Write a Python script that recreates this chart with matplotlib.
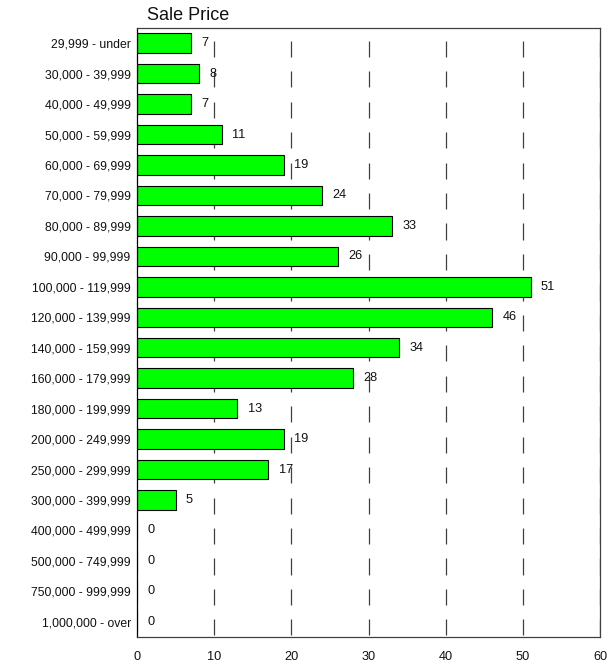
import matplotlib
matplotlib.use("Agg")
import matplotlib.pyplot as plt
import numpy as np

plt.rcParams['font.family'] = ['Liberation Sans', 'DejaVu Sans']

categories = ["29,999 - under", "30,000 - 39,999", "40,000 - 49,999", "50,000 - 59,999",
              "60,000 - 69,999", "70,000 - 79,999", "80,000 - 89,999", "90,000 - 99,999",
              "100,000 - 119,999", "120,000 - 139,999", "140,000 - 159,999", "160,000 - 179,999",
              "180,000 - 199,999", "200,000 - 249,999", "250,000 - 299,999", "300,000 - 399,999",
              "400,000 - 499,999", "500,000 - 749,999", "750,000 - 999,999", "1,000,000 - over"]
values = [7, 8, 7, 11, 19, 24, 33, 26, 51, 46, 34, 28, 13, 19, 17, 5, 0, 0, 0, 0]
xticks = [0, 10, 20, 30, 40, 50, 60]
title = "Sale Price"

fig = plt.figure(figsize=(6.08, 6.64), dpi=100)
ax = fig.add_axes([137/608, 1-637/664, (600-137)/608, (637-28)/664])

y = np.arange(len(categories))
ax.barh(y, values, height=0.64, color='#00FF00', edgecolor='black', linewidth=0.8, zorder=2)

# dashed gridlines (one dash per row)
for xv in xticks[1:]:
    ax.vlines([xv]*len(y), y - 0.08, y + 0.45, colors='#404040', linewidth=0.9, zorder=1)

for yi, v in zip(y, values):
    ax.annotate(str(v), (v, yi), xytext=(7.5, 0), textcoords='offset points',
                ha='left', va='center', fontsize=9.2, color='#111111', zorder=3)

ax.set_xlim(0, 60)
ax.set_ylim(len(categories) - 0.5, -0.5)
ax.set_yticks(y)
ax.set_yticklabels(categories, fontsize=8.8, color='#111111')
ax.set_xticks(xticks)
ax.set_xticklabels([str(t) for t in xticks], fontsize=9.2, color='#111111')
ax.tick_params(axis='y', direction='in', length=6, width=0.8, color='white', pad=4.5)
ax.tick_params(axis='x', length=0, pad=10)

for s in ['top', 'right', 'bottom']:
    ax.spines[s].set_color('#404040')
    ax.spines[s].set_linewidth(0.9)
ax.spines['left'].set_color('black')
ax.spines['left'].set_linewidth(0.9)

fig.text(147/608, 1-20/664, title, fontsize=13, ha='left', va='baseline', color='#111111')

fig.savefig('out.png', dpi=100)
